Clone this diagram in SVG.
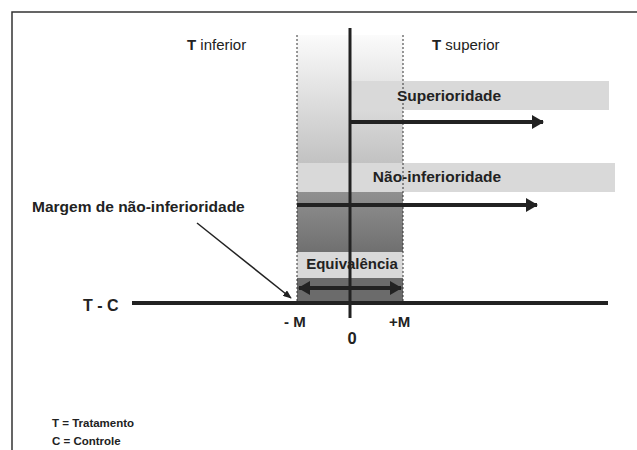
<svg xmlns="http://www.w3.org/2000/svg" width="637" height="450" viewBox="0 0 637 450">
<style>
  .lbl { font-family: "Liberation Sans", Arial, sans-serif; fill: #222; }
  .b { font-weight: bold; }
  .box { fill: #d9d9d9; }
  .thick { stroke: #222; stroke-width: 4; fill: none; }
  .dot { stroke: #333; stroke-width: 1; stroke-dasharray: 2 2; fill: none; }
</style>
<defs>
  <linearGradient id="gTop" x1="0" y1="0" x2="0" y2="1">
    <stop offset="0" stop-color="#fbfbfb"/>
    <stop offset="1" stop-color="#c2c2c2"/>
  </linearGradient>
  <linearGradient id="gBot" x1="0" y1="0" x2="0" y2="1">
    <stop offset="0" stop-color="#909090"/>
    <stop offset="1" stop-color="#626262"/>
  </linearGradient>
  <marker id="ah" viewBox="0 0 12 14" refX="11" refY="7" markerWidth="12" markerHeight="14" markerUnits="userSpaceOnUse" orient="auto-start-reverse">
    <path d="M0,0 L12,7 L0,14 Z" fill="#222"/>
  </marker>
  <marker id="ptr" viewBox="0 0 10 8" refX="9" refY="4" markerWidth="9" markerHeight="7" markerUnits="userSpaceOnUse" orient="auto">
    <path d="M0,0 L10,4 L0,8 Z" fill="#222"/>
  </marker>
</defs>

<rect x="12" y="12" width="640" height="450" fill="#fff" stroke="#333" stroke-width="1.5"/>

<g id="band">
  <rect x="297" y="35" width="106" height="128" fill="url(#gTop)"/>
  <rect x="297" y="192" width="106" height="86" fill="url(#gBot)"/>
  <rect x="297" y="278" width="106" height="23" fill="#6b6b6b"/>
</g>

<g id="superioridade">
  <rect class="box" x="350" y="81" width="259" height="29"/>
  <text class="lbl b" x="449" y="101" font-size="15.5" text-anchor="middle">Superioridade</text>
</g>

<g id="nao-inferioridade">
  <rect class="box" x="297" y="163" width="318" height="29"/>
  <text class="lbl b" x="437" y="182" font-size="15.5" text-anchor="middle">Não-inferioridade</text>
</g>

<g id="equivalencia">
  <rect class="box" x="297" y="252" width="106" height="26"/>
  <text class="lbl b" x="352" y="269" font-size="15" text-anchor="middle">Equivalência</text>
</g>

<g id="connectors">
  <line class="dot" x1="297" y1="35" x2="297" y2="303"/>
  <line class="dot" x1="403" y1="35" x2="403" y2="303"/>
  <line x1="350" y1="28" x2="350" y2="318" stroke="#222" stroke-width="3"/>
  <line class="thick" x1="132" y1="303" x2="608" y2="303"/>
  <line class="thick" x1="350" y1="122" x2="543" y2="122" marker-end="url(#ah)"/>
  <line class="thick" x1="297" y1="205" x2="537" y2="205" marker-end="url(#ah)"/>
  <line class="thick" x1="299" y1="288" x2="401" y2="288" marker-start="url(#ah)" marker-end="url(#ah)"/>
  <line x1="197" y1="223" x2="291" y2="298" stroke="#222" stroke-width="1.5" marker-end="url(#ptr)"/>
</g>

<g id="labels">
  <text class="lbl" x="187" y="50" font-size="15"><tspan class="b">T</tspan> inferior</text>
  <text class="lbl" x="432" y="50" font-size="15"><tspan class="b">T</tspan> superior</text>
  <text class="lbl b" x="32" y="212" font-size="15.5">Margem de não-inferioridade</text>
  <text class="lbl b" x="83" y="311" font-size="16">T - C</text>
  <text class="lbl b" x="284" y="327" font-size="15">- M</text>
  <text class="lbl b" x="389" y="327" font-size="15">+M</text>
  <text class="lbl b" x="352" y="344" font-size="16.5" text-anchor="middle">0</text>
  <text class="lbl b" x="52" y="427" font-size="11.5">T = Tratamento</text>
  <text class="lbl b" x="52" y="445" font-size="11.5">C = Controle</text>
</g>
</svg>
